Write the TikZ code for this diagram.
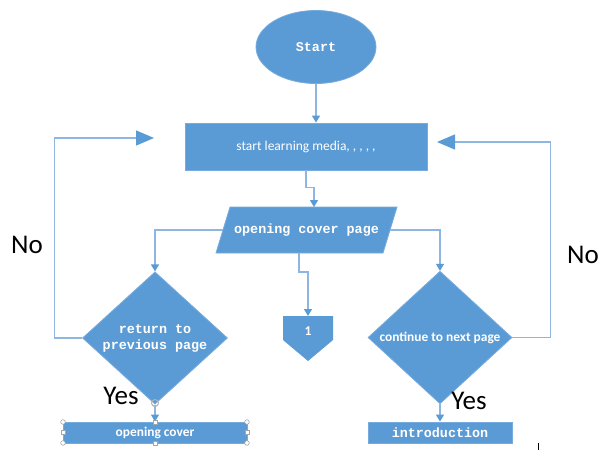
\documentclass[tikz,border=0pt]{standalone}
\usepackage{fontspec}
\setmainfont{Carlito}
\newfontfamily\monofnt{Liberation Mono}
\usetikzlibrary{shapes.geometric,arrows.meta}
\definecolor{boxblue}{HTML}{5B9BD5}
\definecolor{edgeblue}{HTML}{78ABDD}
\definecolor{lineblue}{HTML}{8DB6E2}
\tikzset{
  shp/.style={fill=boxblue,draw=edgeblue,line width=0.8pt,text=white,inner sep=0pt},
  conn/.style={draw=lineblue,line width=1.2pt,-{Triangle[length=7pt,width=8pt,color=boxblue]}},
  loopconn/.style={draw=lineblue,line width=1.2pt,-{Triangle[length=18pt,width=15pt,color=boxblue]}},
  mono/.style={font=\monofnt\bfseries\fontsize{13.4}{16}\selectfont},
  cal/.style={font=\fontsize{13.5}{16}\selectfont},
  calb/.style={font=\bfseries\fontsize{13.4}{16}\selectfont},
  lbl/.style={font=\fontsize{27}{30}\selectfont,text=black,inner sep=0pt},
  handle/.style={fill=white,draw=gray!70,line width=0.6pt}
}
\begin{document}
\begin{tikzpicture}[x=1pt,y=-1pt]
\useasboundingbox[fill=white] (0,0) rectangle (599,450);
% nodes
\node[shp,ellipse,minimum width=120pt,minimum height=73pt,mono] (start) at (316,47) {Start};
\node[shp,rectangle,minimum width=242pt,minimum height=47pt,cal] (media) at (306,146.5) {start learning media, , , , ,};
% parallelogram
\filldraw[fill=boxblue,draw=edgeblue,line width=0.8pt] (230,207) -- (397,207) -- (383,253) -- (216,253) -- cycle;
\node[mono,text=white,inner sep=0pt] (para) at (306.5,230) {opening cover page};
\coordinate (paraW) at (223,230);
\coordinate (paraE) at (390,230);
\coordinate (paraN) at (314,207);
\coordinate (paraS) at (299,253);
\node[shp,diamond,minimum width=145pt,minimum height=92pt,mono,align=center] (ldia) at (155,338) {return to\\previous page};
\node[shp,diamond,minimum width=144pt,minimum height=91pt,calb] (rdia) at (440,337.5) {continue to next page};
\node[shp,rectangle,minimum width=184pt,minimum height=21pt,calb] (ocover) at (155,432.5) {opening cover};
\node[shp,rectangle,minimum width=144pt,minimum height=21pt,mono] (intro) at (440,432.5) {introduction};
% off-page connector
\fill[boxblue] (283,316) -- (333,316) -- (333,340) -- (308,361) -- (283,340) -- cycle;
\coordinate (onetop) at (308,316);
\node[calb,text=white] (one) at (308,331) {1};
% loop ends
\coordinate (lend) at (154,138);
\coordinate (rend) at (437,142);
% connectors
\draw[conn] (start.south) -- (media.north -| start.south);
\draw[conn] (media.south) -- ++(0,17) -| (paraN);
\draw[conn] (paraW) -| (ldia.north);
\draw[conn] (paraE) -| (rdia.north);
\draw[conn] (paraS) -- ++(0,19) -| (onetop);
\draw[conn] (ldia.south) -- (ocover.north);
\draw[conn] (rdia.south) -- (intro.north);
\draw[loopconn] (ldia.west) -- ++(-28,0) |- (lend);
\draw[loopconn] (rdia.east) -- ++(38,0) |- (rend);
% labels
\node[lbl] (nol) at (27,245) {No};
\node[lbl] (nor) at (583,255) {No};
\node[lbl] (yesl) at (121,396) {Yes};
\node[lbl] (yesr) at (469,401) {Yes};
% selection handles
\draw[gray!60,line width=1pt] (155,403) circle (3.5pt);
\foreach \x/\y in {63/422,247/422,63/443,247/443}
  \draw[handle] (\x,\y) circle (2.3pt);
\foreach \x/\y in {155/422,155/443,63/432.5,247/432.5}
  \draw[handle] (\x-2.2,\y-2.2) rectangle (\x+2.2,\y+2.2);
% cursor mark
\draw[black,line width=0.8pt] (538,443) -- (538,450);
\end{tikzpicture}
\end{document}
